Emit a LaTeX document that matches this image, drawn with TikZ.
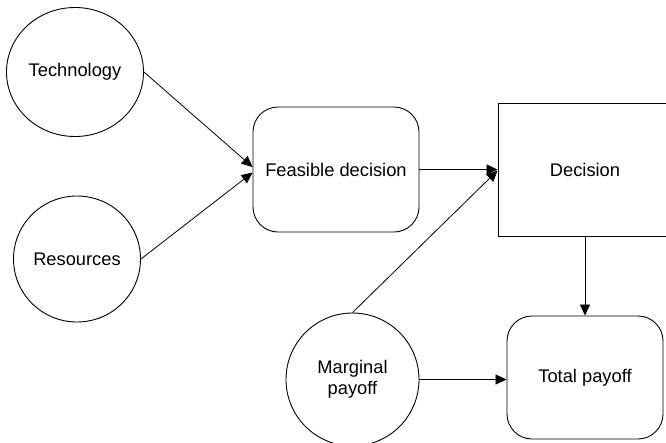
\documentclass[tikz,border=0pt]{standalone}
\usepackage{fontspec}
\setmainfont{Liberation Sans}
\usetikzlibrary{arrows.meta,shapes.geometric,calc}
\begin{document}
\begin{tikzpicture}[x=1pt,y=-1pt,
  every node/.style={font=\fontsize{18.3}{21}\selectfont, align=center, inner sep=0pt, line width=0.9pt},
  blob/.style={draw, ellipse},
  roundbox/.style={draw, rectangle, rounded corners=25pt},
  plainbox/.style={draw, rectangle},
  link/.style={line width=0.8pt, -{Triangle[length=11pt,width=10pt]}}]
\useasboundingbox (0,0) rectangle (666,442);
\clip (0,0) rectangle (666,442);
% inputs
\node[blob, minimum width=137pt, minimum height=129pt] (tech) at (75,72) {Technology};
\node[blob, minimum width=127pt, minimum height=126pt] (res) at (77,259) {Resources};
\node[blob, minimum width=133pt, minimum height=133pt] (marg) at (352.5,379.5) {Marginal\\payoff};
% decision chain
\node[roundbox, minimum width=166pt, minimum height=125pt] (feas) at (336,169.5) {Feasible decision};
\node[plainbox, minimum width=174pt, minimum height=133pt] (dec) at (585,169.5) {Decision};
\node[roundbox, minimum width=156pt, minimum height=123pt] (tot) at (585,377.5) {Total payoff};
% connectors
\draw[link] (tech.east) -- ($(feas.west)+(0,-2.5)$);
\draw[link] (res.east) -- ($(feas.west)+(0,3)$);
\draw[link] (feas.east) -- (dec.west);
\draw[link] (marg.north) -- ($(dec.west)+(0,1)$);
\draw[link] (dec.south) -- (tot.north);
\draw[link] (marg.east) -- (marg.east -| tot.west);
\end{tikzpicture}
\end{document}
